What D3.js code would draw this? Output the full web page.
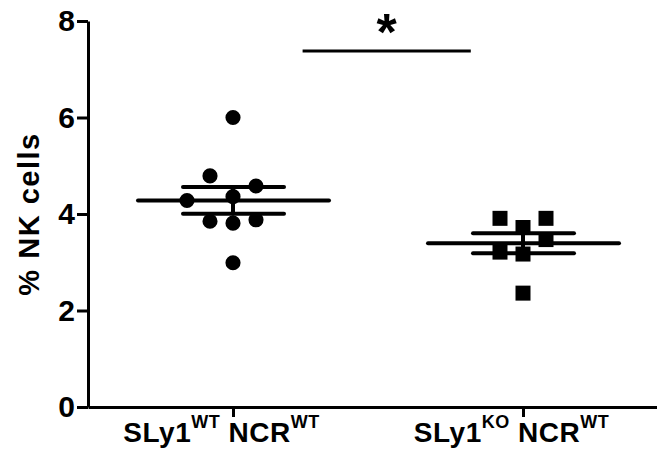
<!DOCTYPE html>
<html>
<head>
<meta charset="utf-8">
<script src="https://cdn.jsdelivr.net/npm/d3@7"></script>
<style>
  body { margin: 0; background: #fff; }
  svg { display: block; font-family: "Liberation Sans", Arial, sans-serif; font-weight: bold; }
</style>
</head>
<body>
<script>
let width = 657, height = 452

// groups on the x axis: [main, superscript] pairs for each label
let groups = ["SLy1WT NCRWT", "SLy1KO NCRWT"]
let labelParts = [
    [["SLy1", "WT"], ["NCR", "WT"]],
    [["SLy1", "KO"], ["NCR", "WT"]]
]

// % NK cells, one value per mouse
let wtValues = [6.0, 2.99, 3.81, 4.36, 3.85, 3.88, 4.79, 4.58, 4.28]
let koValues = [2.36, 3.72, 3.17, 3.21, 3.91, 3.91, 3.47]

let yTicks = [0, 2, 4, 6, 8]
let yTitle = "% NK cells"
let sigLabel = "*"
let sigLevel = 7.38 // height of the significance bar, in % units

let series = [
    { group: groups[0], values: wtValues, symbol: d3.symbolCircle },
    { group: groups[1], values: koValues, symbol: d3.symbolSquare }
]

let svg = d3.select("body").append("svg")
    .attr("width", width)
    .attr("height", height)

let y = d3.scaleLinear().domain([0, 8]).range([407, 21])
let x = d3.scalePoint().domain(groups).range([88, 668]).padding(0.5)

// lay points out in columns so that they do not sit on top of each other
let colStep = 23, minGap = 21
function columns(vals) {
    let placed = []
    let order = [0, -1, 1, -2, 2, -3, 3]
    return vals.map(v => {
        let c = order.find(k => placed.every(p => p.c !== k || Math.abs(y(p.v) - y(v)) >= minGap))
        placed.push({ v: v, c: c })
        return c
    })
}

// y axis
let yAxis = svg.append("g")
    .attr("transform", `translate(${x.range()[0]},0)`)
    .call(d3.axisLeft(y).tickValues(yTicks).tickSize(11).tickSizeOuter(0).tickPadding(2))
yAxis.select(".domain").attr("stroke-width", 3)
yAxis.selectAll(".tick line").attr("stroke-width", 3)
yAxis.selectAll(".tick text")
    .attr("font-size", 30)
    .attr("font-weight", "bold")
    .attr("font-family", "Liberation Sans, Arial, sans-serif")
    .attr("fill", "#000")

// x axis
let xAxis = svg.append("g")
    .attr("transform", `translate(0,${y(0)})`)
    .call(d3.axisBottom(x).tickSize(10).tickSizeOuter(0).tickFormat(""))
xAxis.select(".domain").attr("stroke-width", 3)
xAxis.selectAll(".tick line").attr("stroke-width", 3)

let xLabels = xAxis.selectAll(".tick text")
    .attr("y", 35)
    .attr("dy", 0)
    .attr("dx", -12)
    .attr("font-size", 28)
    .attr("font-family", "Liberation Sans, Arial, sans-serif")
    .attr("font-weight", "bold")
    .attr("fill", "#000")
    .attr("letter-spacing", 0.5)
xLabels.each(function (d, i) {
    let t = d3.select(this)
    labelParts[i].forEach((part, j) => {
        t.append("tspan").attr("dy", j === 0 ? 0 : 14).text((j === 0 ? "" : " ") + part[0])
        t.append("tspan").attr("dy", -14).attr("font-size", 18).text(part[1])
    })
})

// y title
svg.append("text")
    .attr("transform", `translate(39,${(y(0) + y(8)) / 2}) rotate(-90)`)
    .attr("text-anchor", "middle")
    .attr("font-size", 29)
    .attr("letter-spacing", 1.5)
    .text(yTitle)

// points
series.forEach(s => {
    let cols = columns(s.values)
    svg.append("g")
        .selectAll("path")
        .data(s.values)
        .join("path")
        .attr("transform", (d, i) => `translate(${x(s.group) + cols[i] * colStep},${y(d)})`)
        .attr("d", d3.symbol().type(s.symbol).size(s.symbol === d3.symbolCircle ? 180 : 225))
        .attr("fill", "#000")
})

// mean and SEM bars
let stats = series.map(s => {
    let m = d3.mean(s.values)
    let sem = d3.deviation(s.values) / Math.sqrt(s.values.length)
    return { group: s.group, mean: m, lo: m - sem, hi: m + sem }
})

let bars = svg.append("g")
    .attr("stroke", "#000")
    .attr("stroke-width", 4)
    .attr("stroke-linecap", "round")
    .selectAll("g")
    .data(stats)
    .join("g")

bars.append("line") // mean
    .attr("x1", d => x(d.group) - 95)
    .attr("x2", d => x(d.group) + 96)
    .attr("y1", d => y(d.mean))
    .attr("y2", d => y(d.mean))
bars.append("line") // vertical error bar
    .attr("x1", d => x(d.group))
    .attr("x2", d => x(d.group))
    .attr("y1", d => y(d.lo))
    .attr("y2", d => y(d.hi))
bars.selectAll(".cap")
    .data(d => [d.lo, d.hi].map(v => ({ group: d.group, v: v })))
    .join("line")
    .attr("class", "cap")
    .attr("x1", d => x(d.group) - 50)
    .attr("x2", d => x(d.group) + 51)
    .attr("y1", d => y(d.v))
    .attr("y2", d => y(d.v))

// significance bar
let gap = x.step()
svg.append("line")
    .attr("x1", x(groups[0]) + gap * 0.24)
    .attr("x2", x(groups[1]) - gap * 0.18)
    .attr("y1", y(sigLevel))
    .attr("y2", y(sigLevel))
    .attr("stroke", "#000")
    .attr("stroke-width", 3)
svg.append("text")
    .attr("x", (x(groups[0]) + x(groups[1])) / 2 + gap * 0.03)
    .attr("y", y(sigLevel) - 1)
    .attr("text-anchor", "middle")
    .attr("font-size", 52)
    .text(sigLabel)
</script>
</body>
</html>
